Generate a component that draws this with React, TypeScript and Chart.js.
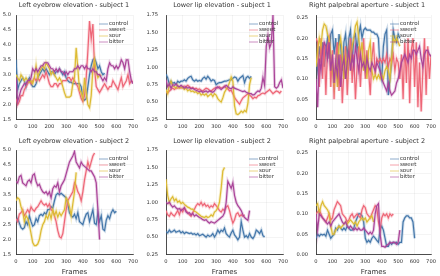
import React, { useEffect, useRef } from "react";
import { Chart, registerables } from "chart.js";
Chart.register(...registerables);

// ---------------- data ----------------
const STEP = 10; // frames between samples
const SERIES = ["control", "sweet", "sour", "bitter"];
const COLORS = ["#4477AA", "#EE6677", "#DDBB33", "#AA4499"];
const TITLES = [
  "Left eyebrow elevation - subject 1",
  "Lower lip elevation - subject 1",
  "Right palpebral aperture - subject 1",
  "Left eyebrow elevation - subject 2",
  "Lower lip elevation - subject 2",
  "Right palpebral aperture - subject 2",
];
const X_LABEL = "Frames";
const X_TICKS = [0, 100, 200, 300, 400, 500, 600, 700];
const EB_TICKS = [1.5, 2.0, 2.5, 3.0, 3.5, 4.0, 4.5, 5.0];
const EB_LABELS = ["1.5", "2.0", "2.5", "3.0", "3.5", "4.0", "4.5", "5.0"];
const LIP_TICKS = [0.25, 0.5, 0.75, 1.0, 1.25, 1.5, 1.75];
const LIP_LABELS = ["0.25", "0.50", "0.75", "1.00", "1.25", "1.50", "1.75"];
const PAL_TICKS = [0, 0.05, 0.1, 0.15, 0.2, 0.25];
const PAL_LABELS = ["0.00", "0.05", "0.10", "0.15", "0.20", "0.25"];

// Left eyebrow - subject 1
const EB1_CONTROL = [3.5, 2.5, 2.7, 2.8, 2.9, 2.8, 2.6, 2.8, 2.9, 2.7, 2.6, 2.6, 2.7, 2.9, 3.0, 3.1, 3.2, 3.1, 3.2, 3.1, 3.0, 3.1, 3.1, 3.0, 3.1, 3.1, 3.2, 3.1, 3.0, 3.1, 2.9, 2.8, 2.75, 2.75, 2.7, 2.7, 2.7, 2.7, 2.7, 2.6, 2.2, 2.15, 2.2, 2.6, 3.0, 3.3, 3.5, 3.55, 3.4, 3.2, 3.3, 3.1, 3.0, 3.05];
const EB1_SWEET = [2.2, 2.0, 2.1, 2.3, 2.3, 2.5, 2.6, 2.7, 2.8, 2.7, 2.8, 2.9, 2.8, 2.9, 2.8, 2.9, 3.0, 2.9, 3.1, 2.9, 2.7, 2.6, 2.6, 2.7, 2.7, 2.6, 2.7, 2.7, 2.8, 2.8, 2.8, 2.9, 2.9, 2.8, 2.9, 2.8, 2.7, 2.6, 2.4, 2.2, 2.1, 2.3, 2.9, 3.8, 4.8, 4.2, 4.7, 3.2, 2.6, 2.5, 2.4, 2.5, 2.6, 2.7, 2.6, 2.5, 2.6, 2.6, 2.8, 2.7, 2.6, 2.5, 2.7, 2.9, 2.6, 2.7, 2.8, 3.0, 2.7, 2.8, 2.75];
const EB1_SOUR = [3.0, 2.9, 2.8, 3.0, 2.9, 2.8, 2.9, 2.8, 2.75, 2.8, 2.7, 2.9, 3.3, 2.9, 3.1, 3.2, 3.3, 3.2, 3.4, 3.3, 3.2, 3.0, 3.1, 3.0, 2.9, 2.8, 2.9, 2.8, 2.6, 2.4, 2.25, 2.25, 2.25, 2.3, 2.7, 2.9, 3.9, 3.2, 2.5, 2.4, 2.2, 2.9, 2.4, 2.0, 1.9, 2.3, 3.2, 3.5, 3.1, 2.9, 3.0, 2.95];
const EB1_BITTER = [2.9, 2.1, 2.3, 2.5, 2.6, 2.7, 2.7, 2.8, 2.8, 2.9, 3.2, 3.1, 3.2, 3.1, 3.2, 3.3, 3.3, 3.4, 3.4, 3.4, 3.3, 3.2, 3.2, 3.1, 3.2, 3.1, 3.2, 3.1, 3.1, 3.0, 3.1, 3.0, 3.1, 3.1, 3.1, 3.2, 3.2, 3.3, 3.2, 3.3, 3.3, 3.2, 3.3, 3.2, 3.2, 3.1, 3.2, 3.1, 3.1, 3.0, 3.0, 2.9, 2.8, 2.9, 2.8, 3.2, 3.4, 3.3, 3.3, 3.2, 3.3, 3.2, 3.3, 3.5, 3.4, 3.2, 3.5, 3.5, 3.1, 2.8, 2.7];

// Lower lip - subject 1
const LIP1_CONTROL = [0.9, 0.85, 0.75, 0.8, 0.77, 0.78, 0.75, 0.8, 0.78, 0.8, 0.8, 0.82, 0.8, 0.84, 0.86, 0.87, 0.82, 0.8, 0.82, 0.8, 0.81, 0.8, 0.84, 0.86, 0.83, 0.87, 0.84, 0.8, 0.82, 0.81, 0.75, 0.77, 0.78, 0.78, 0.79, 0.8, 0.8, 0.81, 0.82, 0.82, 0.84, 0.86, 0.85, 0.8, 0.84, 0.86, 0.88, 0.78, 0.85, 0.87, 0.84, 0.87];
const LIP1_SWEET = [0.65, 0.63, 0.66, 0.68, 0.7, 0.68, 0.7, 0.7, 0.71, 0.7, 0.72, 0.73, 0.72, 0.74, 0.72, 0.7, 0.71, 0.69, 0.7, 0.68, 0.69, 0.67, 0.66, 0.68, 0.7, 0.69, 0.67, 0.66, 0.68, 0.7, 0.71, 0.7, 0.72, 0.7, 0.71, 0.73, 0.7, 0.69, 0.66, 0.67, 0.62, 0.57, 0.53, 0.5, 0.47, 0.52, 0.56, 0.58, 0.6, 0.62, 0.6, 0.58, 0.55, 0.57, 0.56, 0.59, 0.6, 0.62, 0.63, 0.62, 0.64, 0.66, 0.68, 0.65, 0.62, 0.64, 0.66, 0.65, 0.63, 0.66];
const LIP1_SOUR = [0.68, 0.62, 0.75, 0.8, 0.73, 0.72, 0.7, 0.74, 0.7, 0.72, 0.7, 0.68, 0.7, 0.66, 0.68, 0.65, 0.66, 0.64, 0.65, 0.62, 0.64, 0.6, 0.62, 0.6, 0.62, 0.58, 0.6, 0.62, 0.58, 0.62, 0.6, 0.55, 0.52, 0.5, 0.56, 0.64, 0.68, 0.72, 0.78, 0.86, 0.8, 0.45, 0.33, 0.32, 0.34, 0.37, 0.35, 0.38, 0.36, 0.48, 0.75, 0.85];
const LIP1_BITTER = [0.82, 0.72, 0.76, 0.7, 0.75, 0.74, 0.76, 0.73, 0.72, 0.74, 0.72, 0.7, 0.72, 0.7, 0.71, 0.69, 0.7, 0.68, 0.67, 0.66, 0.65, 0.66, 0.64, 0.65, 0.66, 0.64, 0.66, 0.65, 0.64, 0.66, 0.7, 0.72, 0.7, 0.68, 0.7, 0.72, 0.74, 0.72, 0.7, 0.69, 0.72, 0.7, 0.69, 0.68, 0.67, 0.66, 0.65, 0.66, 0.64, 0.63, 0.62, 0.62, 0.6, 0.61, 0.64, 0.66, 0.65, 0.7, 0.85, 0.74, 1.3, 1.45, 1.28, 1.35, 1.75, 0.72, 0.7, 0.72, 0.78, 0.82, 0.7];

// Right palpebral aperture - subject 1
const PAL1_CONTROL = [0.15, 0.12, 0.18, 0.14, 0.19, 0.13, 0.17, 0.2, 0.15, 0.21, 0.22, 0.16, 0.2, 0.13, 0.21, 0.18, 0.12, 0.19, 0.21, 0.15, 0.2, 0.22, 0.14, 0.2, 0.21, 0.17, 0.21, 0.23, 0.2, 0.22, 0.225, 0.22, 0.22, 0.22, 0.215, 0.215, 0.21, 0.21, 0.2, 0.12, 0.1, 0.18, 0.21, 0.22, 0.06, 0.1, 0.14, 0.22, 0.2, 0.19, 0.21, 0.2];
const PAL1_SWEET = [0.2, 0.19, 0.08, 0.2, 0.1, 0.19, 0.06, 0.18, 0.2, 0.08, 0.17, 0.05, 0.15, 0.19, 0.07, 0.16, 0.04, 0.12, 0.18, 0.06, 0.14, 0.2, 0.09, 0.16, 0.05, 0.13, 0.18, 0.08, 0.15, 0.2, 0.1, 0.17, 0.12, 0.06, 0.15, 0.19, 0.11, 0.15, 0.14, 0.15, 0.14, 0.15, 0.14, 0.16, 0.13, 0.15, 0.14, 0.16, 0.12, 0.15, 0.14, 0.1, 0.16, 0.05, 0.19, 0.09, 0.2, 0.04, 0.17, 0.2, 0.08, 0.19, 0.03, 0.14, 0.02, 0.12, 0.2, 0.06, 0.18, 0.1, 0.16];
const PAL1_SOUR = [0.13, 0.17, 0.2, 0.18, 0.22, 0.235, 0.23, 0.21, 0.2, 0.16, 0.12, 0.09, 0.14, 0.08, 0.18, 0.2, 0.16, 0.1, 0.15, 0.12, 0.17, 0.14, 0.18, 0.2, 0.23, 0.24, 0.2, 0.16, 0.19, 0.12, 0.15, 0.1, 0.17, 0.19, 0.12, 0.1, 0.11, 0.1, 0.11, 0.1, 0.11, 0.1, 0.12, 0.13, 0.12, 0.1, 0.15, 0.2, 0.19, 0.2, 0.19, 0.18];
const PAL1_BITTER = [0.1, 0.03, 0.15, 0.12, 0.17, 0.19, 0.18, 0.15, 0.19, 0.12, 0.16, 0.09, 0.14, 0.11, 0.16, 0.08, 0.13, 0.15, 0.1, 0.14, 0.17, 0.12, 0.16, 0.13, 0.18, 0.15, 0.12, 0.16, 0.13, 0.14, 0.12, 0.15, 0.13, 0.12, 0.14, 0.13, 0.12, 0.14, 0.13, 0.12, 0.1, 0.09, 0.08, 0.07, 0.09, 0.07, 0.06, 0.065, 0.07, 0.09, 0.1, 0.12, 0.14, 0.15, 0.16, 0.15, 0.14, 0.16, 0.15, 0.17, 0.17, 0.16, 0.17, 0.18, 0.15, 0.13, 0.16, 0.17, 0.17, 0.16, 0.155];

// Left eyebrow - subject 2
const EB2_CONTROL = [2.6, 2.7, 2.55, 2.4, 2.35, 2.4, 2.6, 2.5, 2.8, 2.6, 2.45, 2.5, 2.7, 2.6, 2.8, 2.85, 2.8, 2.9, 2.85, 3.0, 3.0, 3.1, 3.05, 3.3, 3.5, 3.55, 3.5, 3.55, 3.5, 3.45, 3.4, 3.2, 2.9, 2.8, 2.75, 2.85, 2.7, 2.9, 2.6, 2.55, 2.5, 2.7, 2.85, 2.9, 2.6, 2.8, 3.0, 2.55, 2.5, 2.9, 2.6, 2.8, 2.35, 2.3, 2.65, 2.8, 2.7, 2.9, 3.0, 2.9, 2.95];
const EB2_SWEET = [2.7, 2.6, 2.85, 2.9, 3.0, 2.8, 2.9, 3.0, 2.9, 3.1, 3.0, 2.95, 3.05, 3.1, 3.2, 3.3, 3.2, 3.15, 3.2, 3.1, 3.2, 3.0, 2.95, 2.8, 2.6, 2.3, 2.1, 2.05, 2.2, 2.6, 3.0, 3.3, 3.4, 3.5, 3.6, 3.9, 3.8, 3.6, 3.5, 3.3, 3.6, 4.0, 4.3, 4.6, 4.4, 4.6, 4.8, 4.9];
const EB2_SOUR = [3.3, 3.4, 3.35, 3.1, 2.95, 2.6, 2.8, 2.7, 2.5, 2.2, 1.9, 1.8, 1.8, 1.85, 2.0, 2.3, 2.5, 2.6, 2.8, 2.7, 2.9, 2.7, 3.0, 2.8, 2.95, 2.75, 2.9, 2.8, 2.9, 3.0, 3.4, 3.3, 3.1, 2.8, 3.2, 3.6, 4.25];
const EB2_BITTER = [3.95, 3.9, 4.1, 4.15, 3.9, 3.85, 3.8, 3.95, 4.0, 3.9, 4.15, 4.2, 3.95, 3.8, 3.85, 3.7, 3.6, 3.55, 3.6, 3.5, 3.6, 3.4, 3.7, 3.8, 3.75, 3.9, 3.6, 3.8, 3.9, 4.0, 4.2, 4.4, 4.6, 4.7, 4.8, 4.95, 4.6, 4.5, 4.4, 4.6, 4.5, 4.45, 4.4, 4.35, 4.3, 4.3, 4.2, 4.1, 3.9, 3.0, 2.0];

// Lower lip - subject 2
const LIP2_CONTROL = [0.58, 0.56, 0.6, 0.57, 0.58, 0.6, 0.57, 0.58, 0.59, 0.56, 0.58, 0.55, 0.57, 0.56, 0.55, 0.56, 0.54, 0.55, 0.53, 0.55, 0.52, 0.53, 0.54, 0.52, 0.5, 0.53, 0.51, 0.52, 0.55, 0.5, 0.54, 0.6, 0.56, 0.6, 0.58, 0.63, 0.55, 0.52, 0.5, 0.56, 0.6, 0.53, 0.5, 0.46, 0.5, 0.72, 0.6, 0.5, 0.52, 0.49, 0.55, 0.5, 0.48, 0.52, 0.6, 0.58, 0.55, 0.6, 0.52, 0.5];
const LIP2_SWEET = [0.88, 0.82, 0.8, 0.85, 0.82, 0.8, 0.84, 0.88, 0.82, 0.9, 0.86, 0.92, 0.88, 0.85, 0.82, 0.8, 0.85, 0.9, 0.95, 0.98, 0.96, 1.0, 0.95, 0.98, 0.94, 0.96, 0.92, 0.95, 0.93, 0.98, 0.95, 0.92, 0.88, 0.86, 0.9, 0.88, 0.93, 0.95, 0.88, 0.78, 0.7, 0.75, 0.83, 0.85, 0.8, 0.82, 0.8, 0.82];
const LIP2_SOUR = [1.33, 1.1, 1.0, 1.05, 1.08, 1.02, 1.05, 1.0, 1.02, 0.98, 1.0, 0.97, 0.95, 0.93, 0.92, 0.9, 0.9, 0.87, 0.86, 0.84, 0.82, 0.8, 0.79, 0.78, 0.8, 0.78, 0.79, 0.82, 0.8, 0.86, 0.88, 0.92, 1.0, 1.2, 1.45, 1.5];
const LIP2_BITTER = [1.0, 0.98, 1.0, 0.96, 0.93, 0.95, 0.92, 0.9, 0.91, 0.88, 0.9, 0.92, 0.86, 0.84, 0.85, 0.82, 0.84, 0.8, 0.82, 0.8, 0.78, 0.77, 0.75, 0.74, 0.75, 0.72, 0.7, 0.72, 0.71, 0.7, 0.72, 0.74, 0.76, 0.78, 0.8, 0.85, 1.0, 1.3, 1.25, 1.2, 1.28, 1.1, 1.0, 0.95, 0.92, 0.88, 0.82, 0.78, 0.76, 0.74, 0.88];

// Right palpebral aperture - subject 2
const PAL2_CONTROL = [0.04, 0.05, 0.045, 0.05, 0.048, 0.05, 0.045, 0.06, 0.05, 0.04, 0.045, 0.05, 0.065, 0.06, 0.07, 0.065, 0.06, 0.065, 0.06, 0.07, 0.065, 0.06, 0.06, 0.065, 0.08, 0.09, 0.1, 0.1, 0.095, 0.08, 0.04, 0.03, 0.035, 0.03, 0.04, 0.045, 0.04, 0.035, 0.03, 0.06, 0.07, 0.06, 0.04, 0.02, 0.02, 0.03, 0.025, 0.03, 0.028, 0.03, 0.025, 0.03, 0.03, 0.08, 0.09, 0.095, 0.095, 0.09, 0.09, 0.08, 0.04];
const PAL2_SWEET = [0.1, 0.105, 0.11, 0.1, 0.09, 0.085, 0.08, 0.09, 0.1, 0.085, 0.09, 0.11, 0.12, 0.13, 0.125, 0.12, 0.1, 0.095, 0.09, 0.08, 0.085, 0.095, 0.1, 0.09, 0.095, 0.1, 0.095, 0.09, 0.11, 0.12, 0.115, 0.1, 0.095, 0.09, 0.1, 0.11, 0.12, 0.115, 0.08, 0.06, 0.09, 0.1, 0.095, 0.1, 0.09, 0.1, 0.095, 0.1];
const PAL2_SOUR = [0.12, 0.125, 0.1, 0.12, 0.13, 0.12, 0.115, 0.11, 0.1, 0.07, 0.05, 0.05, 0.06, 0.065, 0.07, 0.065, 0.07, 0.075, 0.08, 0.075, 0.08, 0.085, 0.08, 0.075, 0.08, 0.07, 0.08, 0.085, 0.09, 0.085, 0.09, 0.08, 0.085, 0.09, 0.095, 0.08];
const PAL2_BITTER = [0.1, 0.06, 0.1, 0.095, 0.09, 0.085, 0.08, 0.075, 0.08, 0.07, 0.08, 0.085, 0.09, 0.095, 0.1, 0.09, 0.08, 0.075, 0.08, 0.07, 0.065, 0.07, 0.065, 0.06, 0.065, 0.06, 0.065, 0.06, 0.06, 0.065, 0.06, 0.055, 0.05, 0.055, 0.05, 0.06, 0.1, 0.12, 0.125, 0.05, 0.02, 0.02, 0.018, 0.022, 0.025, 0.03, 0.028, 0.03, 0.03, 0.025, 0.03, 0.06];

const PANELS = [
  { series: [EB1_CONTROL, EB1_SWEET, EB1_SOUR, EB1_BITTER], yMin: 1.5, yMax: 5.0, yTicks: EB_TICKS, yLabels: EB_LABELS },
  { series: [LIP1_CONTROL, LIP1_SWEET, LIP1_SOUR, LIP1_BITTER], yMin: 0.25, yMax: 1.75, yTicks: LIP_TICKS, yLabels: LIP_LABELS },
  { series: [PAL1_CONTROL, PAL1_SWEET, PAL1_SOUR, PAL1_BITTER], yMin: 0, yMax: 0.257, yTicks: PAL_TICKS, yLabels: PAL_LABELS },
  { series: [EB2_CONTROL, EB2_SWEET, EB2_SOUR, EB2_BITTER], yMin: 1.5, yMax: 5.0, yTicks: EB_TICKS, yLabels: EB_LABELS },
  { series: [LIP2_CONTROL, LIP2_SWEET, LIP2_SOUR, LIP2_BITTER], yMin: 0.25, yMax: 1.75, yTicks: LIP_TICKS, yLabels: LIP_LABELS },
  { series: [PAL2_CONTROL, PAL2_SWEET, PAL2_SOUR, PAL2_BITTER], yMin: 0, yMax: 0.257, yTicks: PAL_TICKS, yLabels: PAL_LABELS },
];

// ---------------- layout / style ----------------
const FONT = "'DejaVu Sans', sans-serif";
const TEXT = "#333333";
const COLS = [
  { left: 0, width: 145, chartLeft: 16, padRight: 12, yPad: 5, legendX: 109, titleX: 74 },
  { left: 145, width: 150, chartLeft: 21, padRight: 12, yPad: 8, legendX: 114, titleX: 77 },
  { left: 290, width: 150, chartLeft: 26, padRight: 6, yPad: 8, legendX: 110, titleX: 77 },
];
const ROWS = [
  { top: 0, height: 136, padTop: 15, xh: 16.5, frames: false },
  { top: 136, height: 140, padTop: 14, xh: 21.5, frames: true },
];

function rgba(hex: string, a: number) {
  const n = parseInt(hex.slice(1), 16);
  return `rgba(${(n >> 16) & 255},${(n >> 8) & 255},${n & 255},${a})`;
}

function makeChart(canvas: HTMLCanvasElement, pi: number) {
  const panel = PANELS[pi];
  const col = COLS[pi % 3];
  const row = ROWS[Math.floor(pi / 3)];
  const datasets: any[] = [];
  panel.series.forEach((vals, s) => {
    const pts = vals.map((v, i) => ({ x: i * STEP, y: v }));
    datasets.push({
      label: SERIES[s] + "_band",
      data: pts,
      borderColor: rgba(COLORS[s], 0.25),
      borderWidth: 3,
      pointRadius: 0,
      tension: 0,
      order: 8 - 2 * s,
    });
    datasets.push({
      label: SERIES[s],
      data: pts,
      borderColor: COLORS[s],
      borderWidth: 1.2,
      pointRadius: 0,
      tension: 0,
      order: 7 - 2 * s,
    });
  });

  const deco = {
    id: "deco" + pi,
    afterDraw(chart: any) {
      const ctx = chart.ctx;
      const area = chart.chartArea;
      ctx.save();
      ctx.fillStyle = TEXT;
      ctx.textBaseline = "middle";
      // title
      ctx.font = `6.5px ${FONT}`;
      ctx.textAlign = "center";
      ctx.fillText(TITLES[pi], col.titleX, 5);
      // x label
      if (row.frames) {
        ctx.font = `7px ${FONT}`;
        ctx.fillText(X_LABEL, (area.left + area.right) / 2, 136.5);
      }
      // legend
      ctx.font = `5.5px ${FONT}`;
      ctx.textAlign = "left";
      SERIES.forEach((name, s) => {
        const y = area.top + 9 + s * 6;
        ctx.strokeStyle = rgba(COLORS[s], 0.6);
        ctx.lineWidth = 1;
        ctx.beginPath();
        ctx.moveTo(col.legendX - 10, y);
        ctx.lineTo(col.legendX - 1, y);
        ctx.stroke();
        ctx.fillStyle = TEXT;
        ctx.fillText(name, col.legendX, y);
      });
      ctx.restore();
    },
  };

  return new Chart(canvas, {
    type: "line",
    data: { datasets },
    plugins: [deco],
    options: {
      animation: false,
      responsive: false,
      maintainAspectRatio: false,
      devicePixelRatio: 1,
      layout: { padding: { top: row.padTop, right: col.padRight, left: 0, bottom: 0 } },
      plugins: { legend: { display: false }, title: { display: false }, tooltip: { enabled: false } },
      scales: {
        x: {
          type: "linear",
          min: 0,
          max: 700,
          afterBuildTicks: (s: any) => {
            s.ticks = X_TICKS.map((v) => ({ value: v }));
          },
          afterFit: (s: any) => {
            s.height = row.xh;
          },
          ticks: {
            autoSkip: false,
            maxRotation: 0,
            padding: 4,
            color: TEXT,
            font: { size: 5.2, family: FONT },
            callback: (v: any) => String(v),
          },
          grid: { color: "rgba(0,0,0,0.09)", lineWidth: 0.5, drawTicks: false },
          border: { color: "#222", width: 0.8 },
        },
        y: {
          type: "linear",
          min: panel.yMin,
          max: panel.yMax,
          afterBuildTicks: (s: any) => {
            s.ticks = panel.yTicks.map((v) => ({ value: v }));
          },
          afterFit: (s: any) => {
            s.width = col.chartLeft;
          },
          ticks: {
            autoSkip: false,
            padding: col.yPad,
            color: TEXT,
            font: { size: 5.2, family: FONT },
            callback: (_v: any, i: number) => panel.yLabels[i],
          },
          grid: { color: "rgba(0,0,0,0.09)", lineWidth: 0.5, drawTicks: false },
          border: { color: "#222", width: 0.8 },
        },
      },
    },
  } as any);
}

function Panel({ index }: { index: number }) {
  const ref = useRef<HTMLCanvasElement | null>(null);
  const col = COLS[index % 3];
  const row = ROWS[Math.floor(index / 3)];
  useEffect(() => {
    if (!ref.current) return;
    const chart = makeChart(ref.current, index);
    return () => chart.destroy();
  }, [index]);
  return (
    <canvas
      ref={ref}
      width={col.width}
      height={row.height}
      style={{ position: "absolute", left: col.left, top: row.top, width: col.width, height: row.height }}
    />
  );
}

export default function App() {
  return (
    <div style={{ position: "fixed", left: 0, top: 0, width: 440, height: 276, background: "#fff", overflow: "hidden" }}>
      {PANELS.map((_, i) => (
        <Panel key={i} index={i} />
      ))}
    </div>
  );
}
